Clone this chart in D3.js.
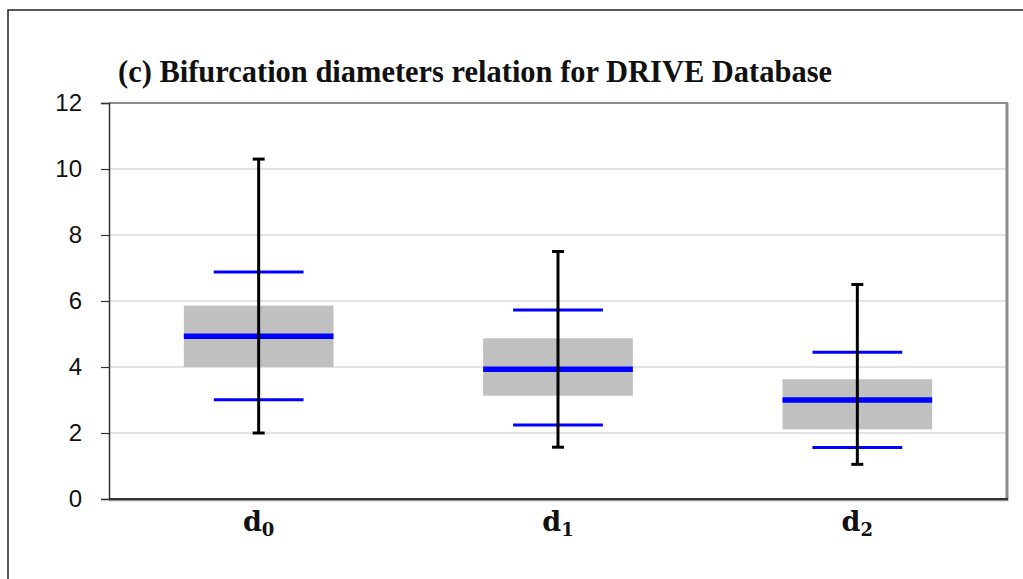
<!DOCTYPE html>
<head>
  <meta charset="utf-8">
  <script src="https://d3js.org/d3.v7.min.js"></script>
  <style>
    body { margin: 0; background: #fff; }
  </style>
</head>
<body>
  <div id="chart"></div>
  <script>
    // data
    var categories = ["0", "1", "2"];
    var whiskerHigh = [10.3, 7.5, 6.5];
    var upperMark = [6.88, 5.73, 4.45];
    var boxHigh = [5.86, 4.87, 3.63];
    var medians = [4.93, 3.93, 3.0];
    var boxLow = [4.0, 3.13, 2.11];
    var lowerMark = [3.01, 2.24, 1.56];
    var whiskerLow = [2.0, 1.57, 1.05];
    var yTicks = [0, 2, 4, 6, 8, 10, 12];

    var width = 1023, height = 579;
    var svg = d3.select("#chart").append("svg")
      .attr("width", width)
      .attr("height", height);

    // outer chart border (right and bottom edges fall outside the picture)
    svg.append("path")
      .attr("d", "M1023,10 H8 V579")
      .attr("fill", "none")
      .attr("stroke", "#222")
      .attr("stroke-width", 1.5);

    var xmin = 109, xmax = 1007, ymin = 103, ymax = 499;

    var x = d3.scaleBand()
      .domain(categories)
      .range([xmin, xmax]);

    var y = d3.scaleLinear()
      .domain([0, 12])
      .range([ymax, ymin]);

    // grid
    svg.append("g").selectAll("line")
      .data(yTicks.filter(d => d > 0 && d < 12)).enter()
      .append("line")
      .attr("x1", xmin).attr("x2", xmax)
      .attr("y1", d => y(d)).attr("y2", d => y(d))
      .attr("stroke", "#c8c8c8")
      .attr("stroke-width", 1.2);

    // plot area frame
    svg.append("line")
      .attr("x1", xmin).attr("x2", xmax + 1)
      .attr("y1", ymin).attr("y2", ymin)
      .attr("stroke", "#8c8c8c").attr("stroke-width", 2);
    svg.append("line")
      .attr("x1", xmax).attr("x2", xmax)
      .attr("y1", ymin).attr("y2", ymax + 2)
      .attr("stroke", "#8c8c8c").attr("stroke-width", 3);
    svg.append("line")
      .attr("x1", xmin).attr("x2", xmax + 1)
      .attr("y1", ymax + 1.5).attr("y2", ymax + 1.5)
      .attr("stroke", "#999").attr("stroke-width", 1.5);

    var bw = x.bandwidth();
    var cx = d => x(d) + bw / 2;
    var idx = categories.map((c, i) => i);

    // boxes
    svg.append("g").selectAll("rect")
      .data(idx).enter()
      .append("rect")
      .attr("x", i => cx(categories[i]) - bw / 4)
      .attr("width", bw / 2)
      .attr("y", i => y(boxHigh[i]))
      .attr("height", i => y(boxLow[i]) - y(boxHigh[i]))
      .attr("fill", "#c0c0c0");

    // medians
    svg.append("g").selectAll("line")
      .data(idx).enter()
      .append("line")
      .attr("x1", i => cx(categories[i]) - bw / 4)
      .attr("x2", i => cx(categories[i]) + bw / 4)
      .attr("y1", i => y(medians[i])).attr("y2", i => y(medians[i]))
      .attr("stroke", "#0000ff")
      .attr("stroke-width", 5.5);

    // blue marks above and below
    [upperMark, lowerMark].forEach(function(arr) {
      svg.append("g").selectAll("line")
        .data(idx).enter()
        .append("line")
        .attr("x1", i => cx(categories[i]) - bw * 0.15)
        .attr("x2", i => cx(categories[i]) + bw * 0.15)
        .attr("y1", i => y(arr[i])).attr("y2", i => y(arr[i]))
        .attr("stroke", "#0000ff")
        .attr("stroke-width", 3);
    });

    // whiskers
    var wg = svg.append("g");
    wg.selectAll(".stem")
      .data(idx).enter()
      .append("line")
      .attr("x1", i => cx(categories[i])).attr("x2", i => cx(categories[i]))
      .attr("y1", i => y(whiskerHigh[i])).attr("y2", i => y(whiskerLow[i]))
      .attr("stroke", "#000").attr("stroke-width", 3);
    [whiskerHigh, whiskerLow].forEach(function(arr) {
      wg.selectAll(null)
        .data(idx).enter()
        .append("line")
        .attr("x1", i => cx(categories[i]) - 6).attr("x2", i => cx(categories[i]) + 6)
        .attr("y1", i => y(arr[i])).attr("y2", i => y(arr[i]))
        .attr("stroke", "#000").attr("stroke-width", 3);
    });

    // y axis
    var yAxis = d3.axisLeft(y)
      .tickValues(yTicks)
      .tickSize(8)
      .tickPadding(19);
    var gy = svg.append("g")
      .attr("transform", "translate(" + xmin + ",0)")
      .call(yAxis);
    gy.select(".domain").attr("stroke", "#333").attr("stroke-width", 1.5);
    gy.selectAll(".tick line").attr("stroke", "#333").attr("stroke-width", 1.2);
    gy.selectAll(".tick text")
      .attr("font-family", "'Liberation Sans', Arial, sans-serif")
      .attr("font-size", 24)
      .attr("fill", "#111");

    // x axis line
    svg.append("line")
      .attr("x1", xmin).attr("x2", xmax + 1)
      .attr("y1", ymax).attr("y2", ymax)
      .attr("stroke", "#333").attr("stroke-width", 1.8);

    // x labels: d with subscript
    var lab = svg.append("g").selectAll("text")
      .data(categories).enter()
      .append("text")
      .attr("x", d => cx(d))
      .attr("y", 531)
      .attr("text-anchor", "middle")
      .attr("font-family", "'DejaVu Serif', 'Liberation Serif', serif")
      .attr("font-weight", "bold")
      .attr("font-size", 27)
      .attr("fill", "#111");
    lab.append("tspan").text("d");
    lab.append("tspan")
      .attr("font-size", 18)
      .attr("dy", 5)
      .text(d => d);

    // title
    svg.append("text")
      .attr("x", 118)
      .attr("y", 82)
      .attr("font-family", "'Liberation Serif', 'Times New Roman', serif")
      .attr("font-weight", "bold")
      .attr("font-size", 32)
      .attr("textLength", 714)
      .attr("lengthAdjust", "spacingAndGlyphs")
      .attr("fill", "#111")
      .text("(c) Bifurcation diameters relation for DRIVE Database");
  </script>
</body>
